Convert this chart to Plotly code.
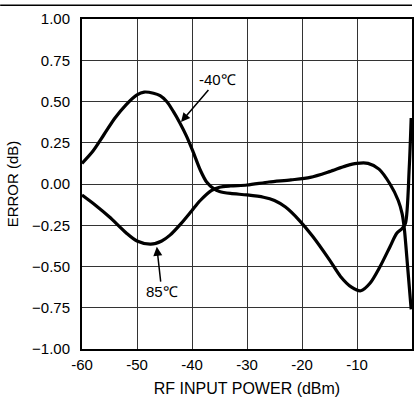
import plotly.graph_objects as go

# -40C curve
cold_x = [-60, -58, -56, -54, -52, -50, -48.7, -47, -45.8, -44.6, -43.4, -42.2, -41, -39.8, -38.5,
          -37.3, -36, -35, -33, -30, -27, -25, -23, -20.5, -18, -15, -13, -11, -9.3, -7.6, -5.8,
          -4, -2.8, -1.8, -1.2, -0.5, -0.15]
cold_y = [0.125, 0.20, 0.30, 0.40, 0.48, 0.54, 0.557, 0.55, 0.535, 0.50, 0.44, 0.37, 0.29, 0.195,
          0.085, 0.01, -0.03, -0.045, -0.057, -0.066, -0.08, -0.10, -0.14, -0.22, -0.32, -0.46,
          -0.56, -0.625, -0.647, -0.60, -0.50, -0.38, -0.30, -0.27, -0.24, 0.10, 0.40]

# 85C curve
hot_x = [-60, -57.5, -55, -52, -50, -47.5, -45.5, -44, -42, -40, -38.5, -36.5, -35, -33, -30, -26,
         -22, -18.5, -15, -12, -10, -8, -6, -4, -2.5, -1.8, -1.4, -0.8, -0.15]
hot_y = [-0.067, -0.13, -0.20, -0.295, -0.345, -0.364, -0.345, -0.31, -0.24, -0.16, -0.10, -0.04,
         -0.02, -0.012, -0.006, 0.012, 0.025, 0.04, 0.075, 0.11, 0.125, 0.125, 0.09, 0.0, -0.10,
         -0.18, -0.27, -0.50, -0.76]

x_ticks = [-60, -50, -40, -30, -20, -10, 0]
y_ticks = [-1.0, -0.75, -0.5, -0.25, 0.0, 0.25, 0.5, 0.75, 1.0]

font = "Liberation Sans, Arial, sans-serif"

data = [go.Scatter(x=cold_x, y=cold_y, mode="lines",
                   line=dict(color="black", width=3.2, shape="spline", smoothing=0.8)),
        go.Scatter(x=hot_x, y=hot_y, mode="lines",
                   line=dict(color="black", width=3.2, shape="spline", smoothing=0.8))]

layout = go.Layout(
    width=415, height=398,
    margin=dict(l=82, r=3, t=19, b=49),
    paper_bgcolor="white", plot_bgcolor="white",
    showlegend=False,
    font=dict(family=font, size=15, color="black"),
    xaxis=dict(range=[-60, 0], tickvals=x_ticks, ticktext=[str(v) for v in x_ticks],
               showgrid=True, gridcolor="#333", gridwidth=1, zeroline=False,
               showline=True, linecolor="black", linewidth=2, mirror=True,
               ticks="", ticklabelstandoff=1, automargin=False,
               title=dict(text="RF INPUT POWER (dBm)", font=dict(size=16), standoff=11)),
    yaxis=dict(range=[-1, 1], tickvals=y_ticks, tickformat=".2f",
               showgrid=True, gridcolor="#333", gridwidth=1, zeroline=False,
               showline=True, linecolor="black", linewidth=2, mirror=True,
               ticks="", ticklabelstandoff=7, automargin=False,
               title=dict(text="ERROR (dB)", font=dict(size=15), standoff=10)),
    annotations=[
        dict(x=-42, y=0.376, text="-40℃", showarrow=True, ax=36, ay=-42,
             arrowhead=2, arrowsize=1.2, arrowwidth=1.5, arrowcolor="black",
             font=dict(size=15)),
        dict(x=-46.4, y=-0.38, text="85℃", showarrow=True, ax=5, ay=45,
             arrowhead=2, arrowsize=1.2, arrowwidth=1.5, arrowcolor="black",
             font=dict(size=15)),
    ],
    shapes=[dict(type="line", xref="paper", yref="paper", x0=-0.248, x1=1.0,
                 y0=1.042, y1=1.042, layer="above", line=dict(color="black", width=1.5))],
)

fig = go.Figure(data=data, layout=layout)
fig.write_html("out.html", config={"displayModeBar": False},
               post_script="document.body.style.margin='0px';")
